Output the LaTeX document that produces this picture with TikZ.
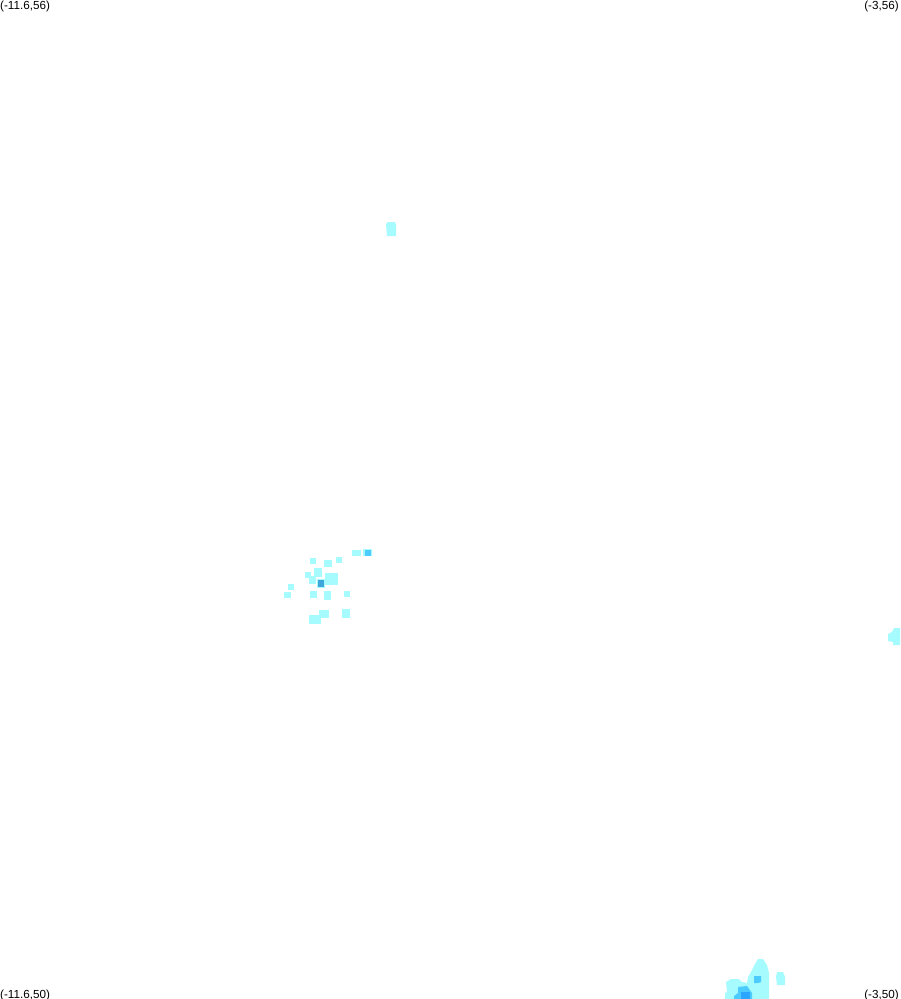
\documentclass[tikz,border=0pt]{standalone}
\usepackage{fontspec}
\setmainfont{Liberation Sans}
\definecolor{pale}{HTML}{A6FBFF}
\definecolor{midblue}{HTML}{4CCBFF}
\definecolor{deepblue}{HTML}{2BA6FF}
\definecolor{coreblue}{HTML}{3FA6DC}
\tikzset{
  cornerlabel/.style={inner sep=0pt,font=\fontsize{11.7}{12}\selectfont,text=black},
  lightfill/.style={fill=pale,draw=none},
  midfill/.style={fill=midblue,draw=none},
  deepfill/.style={fill=deepblue,draw=none},
  corefill/.style={fill=coreblue,draw=none}
}
\begin{document}
\begin{tikzpicture}[x=1pt,y=-1pt]
\useasboundingbox (0,0) rectangle (900,999);
\clip (0,0) rectangle (900,999);
% scattered cells
\foreach \a/\b/\c/\d in {
 310/558/316/564, 324/560/332/567, 336/557/342/563, 352/550/361/556,
 363/549/372/556, 314/568/322/577, 305/572/311/578, 309/576/316/584,
 325/573/338/585, 317/579/325/588, 288/584/294/590, 284/592/291/598,
 310/591/317/598, 324/591/331/600, 344/591/350/597, 319/610/329/618,
 342/609/350/618, 309/615/321/624}
  \fill[lightfill] (\a,\b) rectangle (\c,\d);
\fill[midfill] (365,550) rectangle (371,556);
\fill[corefill] (318,580) rectangle (324,587);
% top blob
\fill[lightfill] (386,224) -- (388,222) -- (395,222) -- (396,225) -- (396,236) -- (387,236) -- cycle;
% right blob
\fill[lightfill] (888,634) -- (892,632) -- (894,628) -- (900,628) -- (900,645) -- (893,645) -- (893,642) -- (888,641) -- cycle;
% bottom blob
\fill[lightfill] (725,999) -- (725,993) -- (727,992) -- (726,982) -- (731,979) -- (739,979) -- (742,982) -- (747,983) -- (748,977) -- (751,972) -- (755,964) -- (758,959) -- (763,959) -- (767,965) -- (769,973) -- (769,999) -- cycle;
\fill[lightfill] (777,972) -- (783,972) -- (785,977) -- (785,985) -- (777,985) -- (776,977) -- cycle;
\fill[midfill] (734,999) -- (734,996) -- (738,993) -- (738,987) -- (747,986) -- (752,993) -- (752,999) -- cycle;
\fill[deepfill] (741,992) rectangle (750,999);
\fill[midfill] (754,976) -- (761,976) -- (761,982) -- (758,983) -- (754,983) -- cycle;
% corner labels
\node[cornerlabel,anchor=north west] (tl) at (0,0.5) {(-11.6,56)};
\node[cornerlabel,anchor=north east] (tr) at (899,0.5) {(-3,56)};
\node[cornerlabel,anchor=south west] (bl) at (0,1001) {(-11.6,50)};
\node[cornerlabel,anchor=south east] (br) at (899,1001) {(-3,50)};
\end{tikzpicture}
\end{document}
